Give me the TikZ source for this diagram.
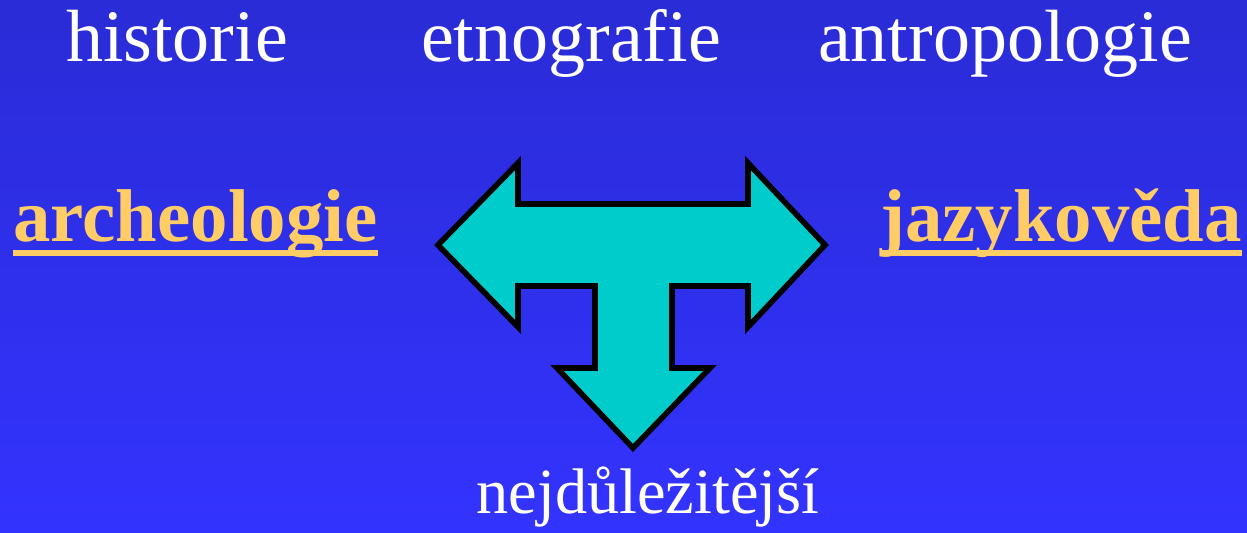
\documentclass[tikz,border=0pt]{standalone}
\usepackage{fontspec}
\setmainfont{Liberation Serif}
\usepackage{tikz}
\usetikzlibrary{positioning}

\definecolor{bgtop}{RGB}{42,44,214}
\definecolor{bgbot}{RGB}{51,51,255}
\definecolor{gold}{RGB}{255,204,102}
\definecolor{teal}{RGB}{0,204,204}

\begin{document}
\begin{tikzpicture}[
        x=0.5pt, y=-0.5pt,
        topic/.style={anchor=base, inner sep=0pt, text=white, font=\fontsize{37}{40}\selectfont},
        field/.style={anchor=base, inner sep=0pt, text=gold, font=\fontsize{37.4}{40}\selectfont\bfseries},
        uline/.style={draw=gold, line width=3pt},
        tarrow/.style={fill=teal, draw=black, line width=2.8pt, line join=miter}
    ]
        \shade[top color=bgtop, bottom color=bgbot] (0,0) rectangle (1247,533);
        \useasboundingbox (0,0) rectangle (1247,533);

        \node[topic] (hist) at (177,62) {historie};
        \node[topic] (etno) at (571,62) {etnografie};
        \node[topic] (antro) at (1005,62) {antropologie};

        \node[field] (arch) at (195.5,242) {archeologie};
        \node[field] (jazyk) at (1061,242) {jazykověda};
        \draw[uline] ([yshift=-5.5pt]arch.base west) -- ([yshift=-5.5pt]arch.base east);
        \draw[uline] ([yshift=-5.5pt]jazyk.base west) -- ([yshift=-5.5pt]jazyk.base east);

        \node[topic, font=\fontsize{32.2}{36}\selectfont] (nejd) at (648,514) {nejdůležitější};

        % three-way arrow
        \draw[tarrow] (438,245) -- (518,163) -- (518,204) -- (748,204) -- (748,163)
            -- (825,245) -- (748,327) -- (748,286) -- (672,286) -- (672,368)
            -- (710,368) -- (633,448) -- (557,368) -- (595,368) -- (595,286)
            -- (518,286) -- (518,327) -- cycle;
    \end{tikzpicture}
\end{document}
